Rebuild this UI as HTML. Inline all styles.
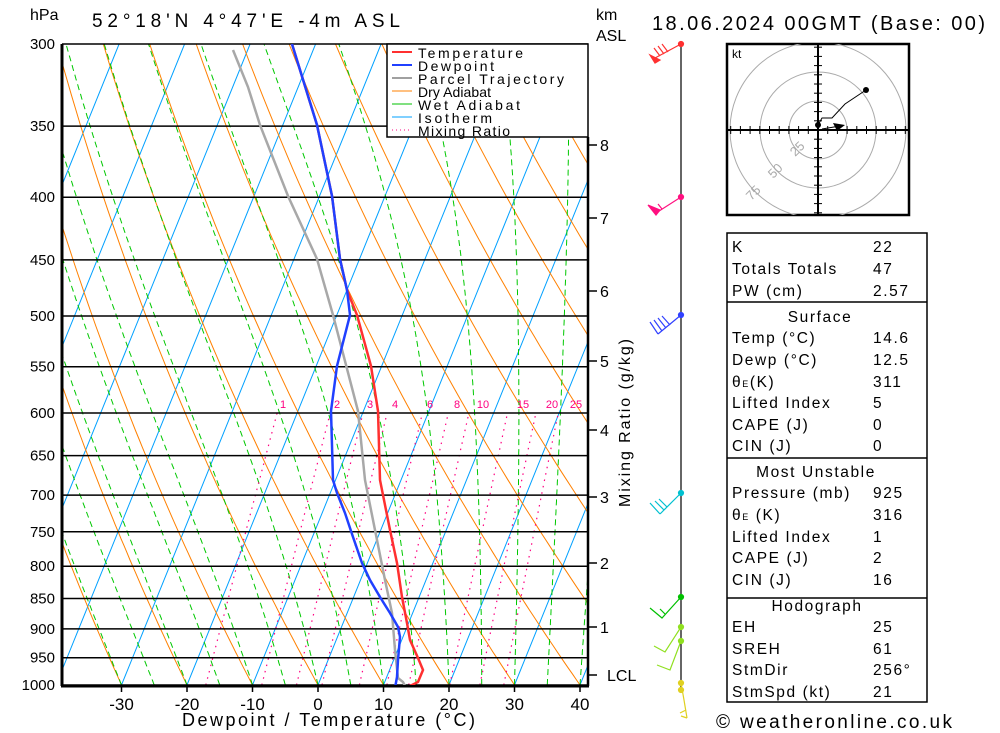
<!DOCTYPE html>
<html><head><meta charset="utf-8"><style>
body{margin:0;background:#fff;}
svg{display:block;font-family:"Liberation Sans",sans-serif;}
.tb text{letter-spacing:1.6px;}
</style></head><body>
<svg id="s" width="1000" height="733" xmlns="http://www.w3.org/2000/svg">
<defs><clipPath id="c"><rect x="62" y="44" width="526" height="641"/></clipPath></defs>
<g id="bg" clip-path="url(#c)"></g>
<g id="fg"></g>
<!-- legend -->
<rect x="387" y="44" width="201" height="93" fill="#fff" stroke="#000" stroke-width="1.5"/>
<g font-size="14" fill="#000">
<line x1="392" y1="52" x2="412" y2="52" stroke="#ff3030" stroke-width="2"/><text x="418" y="58" textLength="105" lengthAdjust="spacing">Temperature</text>
<line x1="392" y1="65" x2="412" y2="65" stroke="#2040ff" stroke-width="2"/><text x="418" y="71" textLength="76" lengthAdjust="spacing">Dewpoint</text>
<line x1="392" y1="78" x2="412" y2="78" stroke="#a0a0a0" stroke-width="2"/><text x="418" y="84" textLength="146" lengthAdjust="spacing">Parcel Trajectory</text>
<line x1="392" y1="91" x2="412" y2="91" stroke="#ff8000" stroke-width="1"/><text x="418" y="97" textLength="73" lengthAdjust="spacing">Dry Adiabat</text>
<line x1="392" y1="104" x2="412" y2="104" stroke="#00c000" stroke-width="1"/><text x="418" y="110" textLength="102" lengthAdjust="spacing">Wet Adiabat</text>
<line x1="392" y1="117" x2="412" y2="117" stroke="#00a0ff" stroke-width="1"/><text x="418" y="123" textLength="74" lengthAdjust="spacing">Isotherm</text>
<line x1="392" y1="130" x2="412" y2="130" stroke="#ff0080" stroke-width="1" stroke-dasharray="1,3"/><text x="418" y="136" textLength="92" lengthAdjust="spacing">Mixing Ratio</text>
</g>
<!-- titles -->
<g font-size="16" fill="#000">
<text x="30" y="20">hPa</text>
<text x="92" y="27" font-size="19" textLength="308" lengthAdjust="spacing">52°18'N  4°47'E  -4m  ASL</text>
<text x="596" y="20">km</text>
<text x="596" y="41">ASL</text>
<text x="652" y="30" font-size="20" textLength="333" lengthAdjust="spacing">18.06.2024  00GMT  (Base: 00)</text>
<text x="716" y="728" font-size="19" textLength="236" lengthAdjust="spacing">© weatheronline.co.uk</text>
<text x="182" y="726" font-size="18" textLength="293" lengthAdjust="spacing">Dewpoint / Temperature (°C)</text>
<text transform="translate(630,423) rotate(-90)" text-anchor="middle" font-size="16" textLength="168" lengthAdjust="spacing">Mixing Ratio (g/kg)</text>
</g>
<!-- hodograph -->
<g>
<rect x="727" y="44" width="182" height="171" fill="#fff" stroke="#000" stroke-width="2.5"/>
<text x="732" y="58" font-size="12">kt</text>
<clipPath id="hc"><rect x="727" y="44" width="182" height="171"/></clipPath>
<circle cx="818" cy="130" r="29" fill="none" stroke="#aaa"/>
<circle cx="818" cy="130" r="58" fill="none" stroke="#aaa"/>
<circle cx="818" cy="130" r="88" fill="none" stroke="#aaa" clip-path="url(#hc)"/>
<line x1="727" y1="130" x2="909" y2="130" stroke="#000" stroke-width="2"/>
<line x1="818" y1="44" x2="818" y2="215" stroke="#000" stroke-width="2"/>
<g id="hticks"></g>
<text x="792" y="155" font-size="13" fill="#aaa" transform="rotate(-45 796 152)">25</text>
<text x="770" y="177" font-size="13" fill="#aaa" transform="rotate(-45 774 174)">50</text>
<text x="748" y="199" font-size="13" fill="#aaa" transform="rotate(-45 752 196)">75</text>
<polyline points="818,125 822,118 832,118 845,104 866,90" fill="none" stroke="#000"/>
<circle cx="866" cy="90" r="3"/><circle cx="818" cy="125" r="3"/>
<line x1="822" y1="129" x2="840" y2="126" stroke="#000"/>
<polygon points="833,123 845,125 837,131" fill="#000"/>
</g>
<!-- table -->
<g class="tb" font-size="15.5" fill="#000">
<rect x="727" y="233" width="200" height="469" fill="none" stroke="#000" stroke-width="1.5"/>
<line x1="727" y1="302" x2="927" y2="302" stroke="#000" stroke-width="1.5"/>
<line x1="727" y1="458" x2="927" y2="458" stroke="#000" stroke-width="1.5"/>
<line x1="727" y1="598" x2="927" y2="598" stroke="#000" stroke-width="1.5"/>
<text x="732" y="252">K</text><text x="873" y="252">22</text>
<text x="732" y="274">Totals Totals</text><text x="873" y="274">47</text>
<text x="732" y="296">PW (cm)</text><text x="873" y="296">2.57</text>
<text x="820" y="322" text-anchor="middle">Surface</text>
<text x="732" y="343">Temp (°C)</text><text x="873" y="343">14.6</text>
<text x="732" y="365">Dewp (°C)</text><text x="873" y="365">12.5</text>
<text x="732" y="387">θ<tspan font-size="9">E</tspan>(K)</text><text x="873" y="387">311</text>
<text x="732" y="408">Lifted Index</text><text x="873" y="408">5</text>
<text x="732" y="430">CAPE (J)</text><text x="873" y="430">0</text>
<text x="732" y="451">CIN (J)</text><text x="873" y="451">0</text>
<text x="816" y="477" text-anchor="middle">Most Unstable</text>
<text x="732" y="498">Pressure (mb)</text><text x="873" y="498">925</text>
<text x="732" y="520">θ<tspan font-size="9">E</tspan> (K)</text><text x="873" y="520">316</text>
<text x="732" y="542">Lifted Index</text><text x="873" y="542">1</text>
<text x="732" y="563">CAPE (J)</text><text x="873" y="563">2</text>
<text x="732" y="585">CIN (J)</text><text x="873" y="585">16</text>
<text x="817" y="611" text-anchor="middle">Hodograph</text>
<text x="732" y="632">EH</text><text x="873" y="632">25</text>
<text x="732" y="654">SREH</text><text x="873" y="654">61</text>
<text x="732" y="675">StmDir</text><text x="873" y="675">256°</text>
<text x="732" y="697">StmSpd (kt)</text><text x="873" y="697">21</text>
</g>
<!-- wind staff -->
<line x1="681" y1="44" x2="681" y2="690" stroke="#000" stroke-width="1.2"/>
<g fill="none" stroke-width="1.2">
<g stroke="#ff3030"><polyline points="681,44 655,58"/><polygon points="650,55 660,60 655,63" fill="#ff3030"/><line x1="660" y1="56" x2="654" y2="48"/><line x1="664" y1="54" x2="658" y2="46"/><line x1="668" y1="52" x2="662" y2="44"/><circle cx="681" cy="44" r="2.5" fill="#ff3030"/></g>
<g stroke="#ff1080"><polyline points="681,197 656,213"/><polygon points="648,205 660,210 656,215" fill="#ff1080"/><line x1="662" y1="209" x2="658" y2="204"/><circle cx="681" cy="197" r="2.5" fill="#ff1080"/></g>
<g stroke="#3040ff"><polyline points="681,315 658,334"/><line x1="658" y1="334" x2="650" y2="322"/><line x1="662" y1="331" x2="654" y2="320"/><line x1="666" y1="328" x2="658" y2="318"/><line x1="670" y1="325" x2="662" y2="316"/><circle cx="681" cy="315" r="2.5" fill="#3040ff"/></g>
<g stroke="#00c0d0"><polyline points="681,493 660,514"/><line x1="660" y1="514" x2="650" y2="503"/><line x1="664" y1="510" x2="655" y2="501"/><line x1="667" y1="507" x2="659" y2="499"/><circle cx="681" cy="493" r="2.5" fill="#00c0d0"/></g>
<g stroke="#00c000"><polyline points="681,597 662,618 650,608"/><line x1="665" y1="614" x2="660" y2="609"/><circle cx="681" cy="597" r="2.5" fill="#00c000"/></g>
<g stroke="#90e020"><polyline points="681,627 665,652 654,646"/><polyline points="681,641 670,670 657,665"/><circle cx="681" cy="627" r="2.5" fill="#90e020"/><circle cx="681" cy="641" r="2.5" fill="#90e020"/></g>
<g stroke="#e0d020"><polyline points="681,683 684,700 687,718"/><line x1="686" y1="710" x2="680" y2="713"/><line x1="687" y1="718" x2="681" y2="716"/><circle cx="681" cy="683" r="2.5" fill="#e0d020"/><circle cx="681" cy="690" r="2.5" fill="#e0d020"/></g>
</g>
<script>
const NS="http://www.w3.org/2000/svg";
const bg=document.getElementById('bg'),fg=document.getElementById('fg');
function Y(p){return 44+641*Math.log(p/300)/Math.log(1000/300);}
function X(T,p){return 318+6.55*T+0.405*(685-Y(p));}
function el(par,tag,a){const e=document.createElementNS(NS,tag);for(const k in a)e.setAttribute(k,a[k]);par.appendChild(e);return e;}
function line(par,pts,st,w,dash){el(par,'polyline',{points:pts.map(q=>q[0].toFixed(1)+','+q[1].toFixed(1)).join(' '),fill:'none',stroke:st,'stroke-width':w||1,'stroke-dasharray':dash||'none'});}
for(let T=-120;T<=40;T+=10){line(bg,[[X(T,1000),Y(1000)],[X(T,300),Y(300)]],'#00a0ff',1);}
for(let th=-30;th<=200;th+=10){let pts=[];for(let p=1000;p>=295;p-=10){let T=(th+273.15)*Math.pow(p/1000,0.2857)-273.15;pts.push([X(T,p),Y(p)]);}line(bg,pts,'#ff8000',1);}
function es(T){return 6.112*Math.exp(17.67*T/(T+243.5));}
function gw(T,p){const Tk=T+273.15,e=es(T),r=0.622*e/(p-e),L=2.5e6,Rd=287,cp=1004;
 return (Rd*Tk+L*r)/(cp+L*L*r*0.622/(Rd*Tk*Tk))/p;}
for(let tw=-30;tw<=40;tw+=5){let T=tw,pts=[[X(T,1000),Y(1000)]];for(let p=1000;p>300;p-=2){T-=gw(T,p)*2;pts.push([X(T,p-2),Y(p-2)]);}line(bg,pts,'#00c800',1,'6,4');}
const mr=[1,2,3,4,6,8,10,15,20,25],lx=[283,337,370,395,430,457,483,523,552,576];
mr.forEach((w,i)=>{let pts=[];for(let p=1000;p>=600;p-=20){const e=w*p/(622+w),l=Math.log(e/6.112),T=243.5*l/(17.67-l);pts.push([X(T,p),Y(p)]);}
 line(bg,pts,'#ff0080',1.2,'1.5,5');
 const t=el(fg,'text',{x:lx[i],y:408,'font-size':11,fill:'#ff0080','text-anchor':'middle'});t.textContent=w;});
const P=[300,350,400,450,500,550,600,650,700,750,800,850,900,950,1000];
P.forEach(p=>{const y=Y(p);line(fg,[[62,y],[588,y]],'#000',1.5);const t=el(fg,'text',{x:55,y:y+5,'font-size':15,'text-anchor':'end'});t.textContent=p;});
line(fg,[[62,44],[62,686]],'#000',3);line(fg,[[61,686],[589,686]],'#000',3);line(fg,[[588,137],[588,686]],'#000',2.5);
[-30,-20,-10,0,10,20,30,40].forEach(T=>{const x=318+6.55*T;line(fg,[[x,686],[x,692]],'#000',1.5);const t=el(fg,'text',{x:x,y:710,'font-size':17,'text-anchor':'middle'});t.textContent=T;});
[[8,145],[7,218],[6,291],[5,361],[4,430],[3,497],[2,563],[1,627],['LCL',675]].forEach(k=>{line(fg,[[588,k[1]],[597,k[1]]],'#000',1.5);const t=el(fg,'text',{x:k[0]==='LCL'?607:600,y:k[1]+6,'font-size':16});t.textContent=k[0];});
const gray=[[233,50],[248,87],[260,125],[288,196],[317,259],[333,315],[358,411],[365,480],[375,530],[385,580],[392,613],[395,650],[398,678],[403,682],[405,686]];
const dew=[[292,44],[317,125],[332,196],[340,259],[347,290],[350,315],[337,366],[331,411],[333,480],[337,493],[345,513],[353,537],[362,563],[370,580],[380,597],[390,613],[398,627],[400,637],[398,660],[397,677],[395,688]];
const tem=[[292,44],[317,125],[332,196],[340,259],[347,290],[357,315],[371,366],[378,411],[380,480],[390,530],[397,563],[402,597],[407,623],[410,640],[418,658],[423,670],[418,682],[410,686],[420,689]];
const g2=el(fg,'g',{'clip-path':'url(#c)'});
line(g2,gray,'#a8a8a8',2.5);line(g2,tem,'#ff3030',2.5);line(g2,dew,'#2040ff',2.5);
const ht=document.getElementById('hticks');
for(let i=-9;i<=9;i++){if(!i)continue;const x=818+i*9.7;line(ht,[[x,126],[x,134]],'#000',1);}
for(let i=-9;i<=9;i++){if(!i)continue;const y=130+i*9.2;line(ht,[[814,y],[822,y]],'#000',1);}
</script>
</svg>
</body></html>
